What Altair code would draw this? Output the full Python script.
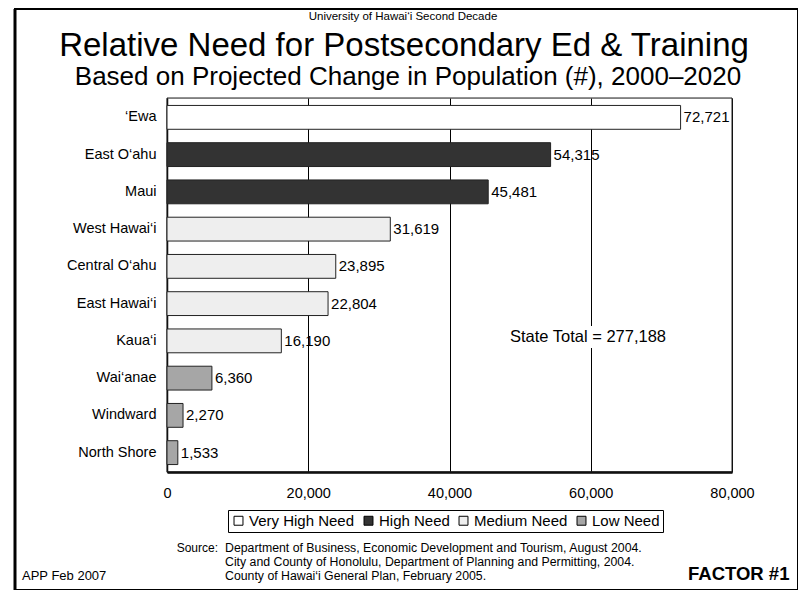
import altair as alt
import pandas as pd

regions = ["\u2018Ewa", "East O\u2018ahu", "Maui", "West Hawai\u2018i", "Central O\u2018ahu",
           "East Hawai\u2018i", "Kaua\u2018i", "Wai\u2018anae", "Windward", "North Shore"]
values = [72721, 54315, 45481, 31619, 23895, 22804, 16190, 6360, 2270, 1533]
needs = ["Very High Need", "High Need", "High Need", "Medium Need", "Medium Need",
         "Medium Need", "Medium Need", "Low Need", "Low Need", "Low Need"]
need_order = ["Very High Need", "High Need", "Medium Need", "Low Need"]
need_colors = ["#ffffff", "#333333", "#eeeeee", "#a6a6a6"]
x_ticks = [0, 20000, 40000, 60000, 80000]

df = pd.DataFrame({"region": regions, "value": values, "need": needs})

FONT = "Liberation Sans"
W, H = 565, 374

y_axis = alt.Axis(labelFont=FONT, labelFontSize=14.5, labelColor="black",
                  ticks=False, labelPadding=11, domainColor="black", domainWidth=1.5)
x_axis = alt.Axis(values=x_ticks, labelExpr="format(datum.value, ',')",
                  labelFont=FONT, labelFontSize=14.5,
                  labelColor="black", ticks=False, labelPadding=14,
                  grid=True, gridColor="black", gridWidth=1,
                  domainColor="black", domainWidth=2.5, labelFlush=False)
y_enc = alt.Y("region:N", sort=regions, title=None,
              scale=alt.Scale(paddingInner=0.36, paddingOuter=0.2), axis=y_axis)
x_enc = alt.X("value:Q", title=None,
              scale=alt.Scale(domain=[0, 80000], nice=False), axis=x_axis)

base = alt.Chart(df)

bars = base.mark_bar(stroke="#222222", strokeWidth=1).encode(
    y=y_enc,
    x=x_enc,
    fill=alt.Fill("need:N", scale=alt.Scale(domain=need_order, range=need_colors),
                  legend=alt.Legend(title=None, orient="none", legendX=61, legendY=412,
                                    direction="horizontal", symbolType="square",
                                    symbolSize=80, symbolStrokeColor="black",
                                    symbolStrokeWidth=1, labelFont=FONT,
                                    labelFontSize=15, labelColor="black",
                                    labelOffset=3, columnPadding=6, padding=3,
                                    strokeColor="black", fillColor="white")),
)

labels = base.mark_text(align="left", baseline="middle", dx=3, font=FONT,
                        fontSize=15, color="black").encode(
    y=y_enc,
    x=x_enc,
    text=alt.Text("value:Q", format=","),
)

one = pd.DataFrame({"a": [0]})

def txt(s, x, y, size, align="center", weight="normal"):
    return alt.Chart(one).mark_text(text=s, font=FONT, fontSize=size, align=align,
                                    baseline="middle", fontWeight=weight,
                                    color="black").encode(
        x=alt.value(x), y=alt.value(y))

plot_border = alt.Chart(one).mark_rect(fill=None, stroke="#222222", strokeWidth=1).encode(
    x=alt.value(0), x2=alt.value(W), y=alt.value(0), y2=alt.value(H))

state_bg = alt.Chart(one).mark_rect(fill="white").encode(
    x=alt.value(332), x2=alt.value(510), y=alt.value(228), y2=alt.value(250))

frame = alt.Chart(one).mark_rect(fill=None, stroke="black", strokeWidth=2).encode(
    x=alt.value(-152), x2=alt.value(631), y=alt.value(-89), y2=alt.value(492))
frame_left = alt.Chart(one).mark_rule(color="black", strokeWidth=3).encode(
    x=alt.value(-152), y=alt.value(-89), y2=alt.value(492))

texts = [
    txt("University of Hawai\u2018i Second Decade", 236, -81, 11.5),
    txt("Relative Need for Postsecondary Ed & Training", 237, -52, 33),
    txt("Based on Projected Change in Population (#), 2000\u20132020", 241, -21, 26),
    txt("State Total = 277,188", 421, 239, 16.5),
    txt("Source:", 51, 450, 12, align="right"),
    txt("Department of Business, Economic Development and Tourism, August 2004.", 58, 450, 12.3, align="left"),
    txt("City and County of Honolulu, Department of Planning and Permitting, 2004.", 58, 464, 12.3, align="left"),
    txt("County of Hawai\u2018i General Plan, February 2005.", 58, 478, 12.3, align="left"),
    txt("APP Feb 2007", -145, 478, 13, align="left"),
    txt("FACTOR #1", 521, 476, 18.5, align="left", weight="bold"),
]

chart = alt.layer(frame, frame_left, plot_border, bars, state_bg, labels, *texts).properties(
    width=W, height=H,
    autosize=alt.AutoSizeParams(type="none"),
    padding={"left": 159, "top": 90, "right": 66, "bottom": 118},
).configure_view(stroke=None).configure(background="white")

chart.save("out.html", embed_options={"renderer": "svg", "actions": False})
